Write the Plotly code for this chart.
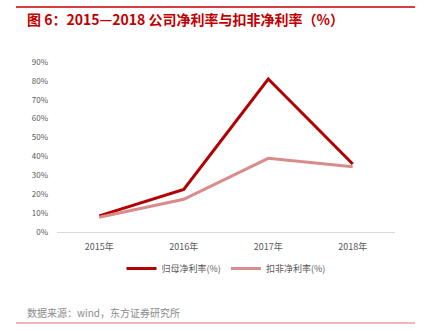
import plotly.graph_objects as go

years = ["2015年", "2016年", "2017年", "2018年"]
net_margin = [8.5, 22.5, 81.0, 36.0]        # 归母净利率(%)
net_margin_deducted = [7.8, 17.3, 39.0, 34.5]  # 扣非净利率(%)
y_ticks = [0, 10, 20, 30, 40, 50, 60, 70, 80, 90]
y_tick_text = [f"{v}%" for v in y_ticks]

font_cn = "Noto Sans CJK SC"

fig = go.Figure()
fig.add_trace(go.Scatter(
    x=years, y=net_margin, mode="lines", name="归母净利率(%)",
    line=dict(color="#b30000", width=3),
))
fig.add_trace(go.Scatter(
    x=years, y=net_margin_deducted, mode="lines", name="扣非净利率(%)",
    line=dict(color="#d98c8c", width=3),
))

fig.update_layout(
    width=426, height=331,
    margin=dict(l=57, r=31, t=62, b=99),
    paper_bgcolor="white", plot_bgcolor="white",
    font=dict(family=font_cn, color="#595959", size=9),
    showlegend=True,
    legend=dict(orientation="h", x=0.5, xanchor="center", y=-0.13, yanchor="top",
                font=dict(size=9, color="#595959"), itemwidth=30, tracegroupgap=0),
    xaxis=dict(range=[-0.5, 3.5], showgrid=False, showline=True,
               linecolor="#d9d9d9", linewidth=1,
               ticks="", ticklabelstandoff=6,
               tickfont=dict(size=9, color="#595959")),
    yaxis=dict(range=[0, 90], tickvals=y_ticks, ticktext=y_tick_text,
               showgrid=False, zeroline=False, showline=False,
               ticklabelstandoff=8,
               tickfont=dict(size=8, color="#595959")),
)

# header rule and title
fig.add_shape(type="line", xref="paper", yref="paper",
              x0=-41/338, x1=358/338, y0=(331-99-7)/170, y1=(331-99-7)/170,
              line=dict(color="#c00000", width=1.5))
fig.add_annotation(xref="paper", yref="paper", x=-32/338, y=(232-19)/170,
                   xanchor="left", yanchor="middle", showarrow=False,
                   text="<b>图 6：2015—2018 公司净利率与扣非净利率（%）</b>",
                   font=dict(family=font_cn, size=14, color="#c00000"))

# source note and footer rule
fig.add_annotation(xref="paper", yref="paper", x=-32/338, y=(232-312)/170,
                   xanchor="left", yanchor="middle", showarrow=False,
                   text="数据来源：wind，东方证券研究所",
                   font=dict(family=font_cn, size=10, color="#8c8c8c"))
fig.add_shape(type="line", xref="paper", yref="paper",
              x0=-41/338, x1=358/338, y0=(232-323)/170, y1=(232-323)/170,
              line=dict(color="#e07070", width=1.2))

fig.write_html("out.html")
